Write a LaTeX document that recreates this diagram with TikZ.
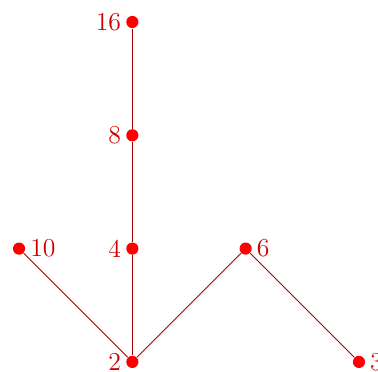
\documentclass[tikz,border=0pt]{standalone}
\usepackage{tikz}
\usetikzlibrary{positioning}

\begin{document}
\begin{tikzpicture}[x=1.7cm,y=1.7cm,
    vtx/.style={circle,fill=red,inner sep=0pt,minimum size=5.2pt},
    lbl/.style={text=red!80!black,inner sep=1.8pt,font=\fontsize{11}{13}\selectfont},
    link/.style={red!65!black,line width=0.4pt}]
  \useasboundingbox (-0.168,-0.088) rectangle (3.168,3.194);

  % divisors
  \node[vtx,label={[lbl]left:2}]   (two)     at (1,0) {};
  \node[vtx,label={[lbl]right:3}]  (three)   at (3,0) {};
  \node[vtx,label={[lbl]right:10}] (ten)     at (0,1) {};
  \node[vtx,label={[lbl]left:4}]   (four)    at (1,1) {};
  \node[vtx,label={[lbl]right:6}]  (six)     at (2,1) {};
  \node[vtx,label={[lbl]left:8}]   (eight)   at (1,2) {};
  \node[vtx,label={[lbl]left:16}]  (sixteen) at (1,3) {};

  % covering relations
  \draw[link] (ten) -- (two);
  \draw[link] (two) -- (four) -- (eight) -- (sixteen);
  \draw[link] (two) -- (six) -- (three);
\end{tikzpicture}
\end{document}
